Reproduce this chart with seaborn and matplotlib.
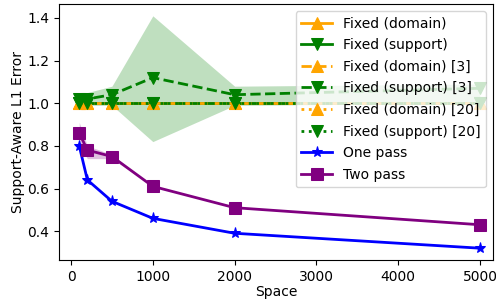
import matplotlib
matplotlib.use("Agg")
import matplotlib.pyplot as plt
import seaborn as sns
import numpy as np

space = [100, 200, 500, 1000, 2000, 5000]

fixed_domain = [1.00, 1.00, 1.00, 1.00, 1.00, 1.00]
fixed_support = [1.00, 1.00, 1.00, 1.00, 1.00, 1.00]
fixed_domain_3 = [1.00, 1.00, 1.00, 1.00, 1.00, 1.00]
fixed_support_3 = [1.02, 1.02, 1.04, 1.12, 1.04, 1.07]
fixed_support_3_lo = [0.99, 0.99, 0.99, 0.82, 0.99, 1.00]
fixed_support_3_hi = [1.04, 1.05, 1.08, 1.41, 1.08, 1.09]
fixed_domain_20 = [1.00, 1.00, 1.00, 1.00, 1.00, 1.00]
fixed_support_20 = [1.00, 1.00, 1.00, 1.00, 1.00, 1.00]
one_pass = [0.80, 0.64, 0.54, 0.46, 0.39, 0.32]
two_pass = [0.86, 0.78, 0.75, 0.61, 0.51, 0.43]
two_pass_lo = [0.80, 0.74, 0.74, 0.61, 0.51, 0.43]
two_pass_hi = [0.91, 0.80, 0.76, 0.61, 0.51, 0.43]

fig = plt.figure(figsize=(4.96, 2.99), dpi=100)
ax = fig.add_axes([0.119, 0.13, 0.875, 0.857])

series = [
    ("Fixed (domain)", fixed_domain, "orange", "^", "-"),
    ("Fixed (support)", fixed_support, "green", "v", "-"),
    ("Fixed (domain) [3]", fixed_domain_3, "orange", "^", "--"),
    ("Fixed (support) [3]", fixed_support_3, "green", "v", "--"),
    ("Fixed (domain) [20]", fixed_domain_20, "orange", "^", ":"),
    ("Fixed (support) [20]", fixed_support_20, "green", "v", ":"),
    ("One pass", one_pass, "blue", "*", "-"),
    ("Two pass", two_pass, "purple", "s", "-"),
]

ax.fill_between(space, fixed_support_3_lo, fixed_support_3_hi, color="green", alpha=0.25, linewidth=0)
ax.fill_between(space, [0.995]*6, [1.005]*6, color="orange", alpha=0.3, linewidth=0)
ax.fill_between(space, two_pass_lo, two_pass_hi, color="purple", alpha=0.25, linewidth=0)

for label, vals, color, marker, ls in series:
    sns.lineplot(x=space, y=vals, ax=ax, color=color, marker=marker, linestyle=ls,
                 linewidth=2, markersize=9 if marker != "*" else 8, markeredgecolor=color,
                 label=label)

fs = 10
ax.set_xlim(-147, 5160)
ax.set_ylim(0.264, 1.466)
ax.set_xticks([0, 1000, 2000, 3000, 4000, 5000])
ax.set_yticks([0.4, 0.6, 0.8, 1.0, 1.2, 1.4])
ax.set_xlabel("Space", fontsize=fs, labelpad=1)
ax.set_ylabel("Support-Aware L1 Error", fontsize=fs, labelpad=2)
ax.tick_params(labelsize=fs)
ax.legend(loc="upper right", fontsize=fs, framealpha=0.8, handlelength=2.2,
          borderaxespad=0.5, labelspacing=0.55)

fig.savefig("out.png", dpi=100)
